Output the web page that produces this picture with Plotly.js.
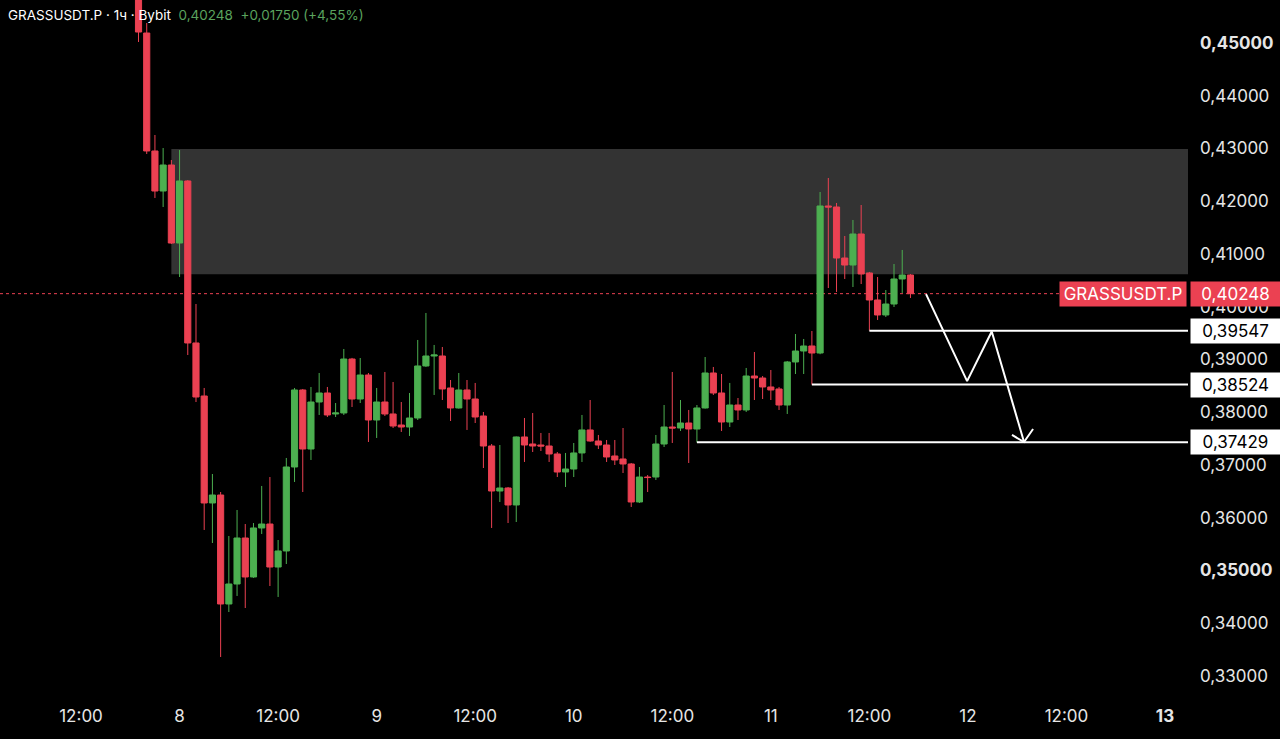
<!DOCTYPE html>
<html><head><meta charset="utf-8">
<script src="https://cdn.plot.ly/plotly-3.0.1.min.js"></script>
<style>html,body{margin:0;padding:0;background:#000;overflow:hidden}#chart{width:1280px;height:739px}</style>
</head><body><div id="chart"></div>
<script>
// hourly candles, first candle 2025-10-07 19:00
const firstCandle = [2025, 9, 7, 19];
const opens = [0.4620,0.45189,0.42953,0.42194,0.42687,0.41208,0.42384,0.39313,0.38308,0.36280,
0.36431,0.34365,0.34744,0.35616,0.34877,0.35806,0.35881,0.35066,0.35370,0.36962,
0.38422,0.37303,0.38194,0.38365,0.37967,0.37986,0.39009,0.38251,0.38706,0.37853,
0.38194,0.37967,0.37758,0.37720,0.37891,0.38877,0.39066,0.39066,0.38460,0.38081,
0.38422,0.38251,0.37929,0.37360,0.36507,0.36564,0.36242,0.37531,0.37398,0.37379,
0.37360,0.37209,0.36867,0.36924,0.37228,0.37664,0.37455,0.37379,0.37171,0.37114,
0.37019,0.36299,0.36772,0.36772,0.37398,0.37720,0.37701,0.37796,0.37682,0.38081,
0.38744,0.38365,0.37815,0.38137,0.38043,0.38687,0.38649,0.38479,0.38441,0.38137,
0.38953,0.39161,0.39256,0.39123,0.41910,0.41891,0.40924,0.40791,0.41379,0.40640,
0.40128,0.39844,0.40052,0.40526,0.40602];
const highs = [0.4640,0.45379,0.43256,0.43009,0.42782,0.42971,0.42400,0.40052,0.38460,0.36829,
0.36488,0.35654,0.36147,0.35881,0.35900,0.36602,0.36772,0.35578,0.37133,0.38460,
0.38441,0.38479,0.38744,0.38479,0.38175,0.39199,0.39030,0.39028,0.38744,0.38460,
0.38763,0.38573,0.38194,0.38365,0.39370,0.39882,0.39275,0.39237,0.38611,0.38744,
0.38611,0.38555,0.38005,0.37398,0.37379,0.36583,0.37540,0.37891,0.37986,0.37607,
0.37607,0.37246,0.37228,0.37417,0.37948,0.38232,0.37569,0.37474,0.37474,0.37701,
0.37038,0.36962,0.36810,0.37569,0.38137,0.38763,0.38232,0.38043,0.38137,0.39047,
0.38858,0.38725,0.38555,0.38270,0.38839,0.39142,0.38687,0.38801,0.38479,0.38972,
0.39483,0.39389,0.39540,0.42175,0.42441,0.41967,0.41341,0.41645,0.41929,0.40660,
0.40564,0.40317,0.40810,0.41076,0.40620];
const lows = [0.45019,0.42896,0.42062,0.41891,0.41190,0.40564,0.39085,0.38194,0.35768,0.35521,
0.33360,0.34213,0.34517,0.34289,0.34860,0.35692,0.34706,0.34498,0.35123,0.36678,
0.36488,0.37095,0.37948,0.37910,0.37910,0.37948,0.38100,0.38175,0.37436,0.37512,
0.37929,0.37701,0.37626,0.37550,0.37853,0.38860,0.38327,0.38232,0.37834,0.38070,
0.37664,0.37796,0.36943,0.35806,0.36299,0.35900,0.35919,0.37057,0.37246,0.37265,
0.37057,0.36772,0.36583,0.36772,0.37057,0.37440,0.37303,0.37057,0.37000,0.36848,
0.36204,0.36280,0.36488,0.36716,0.37341,0.37417,0.37645,0.37038,0.37429,0.38070,
0.38327,0.37645,0.37720,0.37853,0.38005,0.38232,0.38251,0.38232,0.38043,0.37967,
0.38725,0.38725,0.38524,0.39100,0.40355,0.40280,0.40526,0.40374,0.40431,0.39547,
0.39749,0.39806,0.39995,0.40261,0.40166];
const closes = [0.45208,0.42953,0.42194,0.42687,0.41208,0.42384,0.39313,0.38289,0.36280,0.36431,
0.34365,0.34744,0.35616,0.34877,0.35806,0.35881,0.35066,0.35370,0.36962,0.38422,
0.37303,0.38194,0.38365,0.37948,0.37986,0.39009,0.38251,0.38706,0.37853,0.38194,
0.37967,0.37739,0.37720,0.37891,0.38877,0.39066,0.39085,0.38441,0.38081,0.38422,
0.38251,0.37910,0.37360,0.36507,0.36564,0.36242,0.37531,0.37379,0.37360,0.37360,
0.37209,0.36867,0.36924,0.37228,0.37664,0.37455,0.37379,0.37152,0.37095,0.37019,
0.36299,0.36772,0.36762,0.37398,0.37720,0.37701,0.37796,0.37682,0.38081,0.38744,
0.38365,0.37815,0.38137,0.38043,0.38687,0.38649,0.38479,0.38422,0.38137,0.38953,
0.39161,0.39256,0.39123,0.41910,0.41891,0.40924,0.40791,0.41379,0.40621,0.40128,
0.39844,0.40052,0.40526,0.40602,0.40248];

const lastPrice = 0.40248;
const symbol = 'GRASSUSDT.P';
const headerLeft = 'GRASSUSDT.P · 1ч · Bybit';
const headerRight = '0,40248\u00a0\u00a0+0,01750 (+4,55%)';

// supply zone
const zoneStart = '2025-10-07 23:00';
const zoneTop = 0.4299;
const zoneBottom = 0.40617;

// support levels
const levelPrices = [0.39547, 0.38524, 0.37429];
const levelLabels = ['0,39547', '0,38524', '0,37429'];
const levelStarts = ['2025-10-11 12:00', '2025-10-11 05:00', '2025-10-10 15:00'];

// projected path
const pathTimes = ['2025-10-11 18:54', '2025-10-11 23:54', '2025-10-12 02:54', '2025-10-12 06:50'];
const pathPrices = [0.40240, 0.38590, 0.39530, 0.37436];
const headTimes = ['2025-10-12 05:22', '2025-10-12 06:50', '2025-10-12 07:56'];
const headPrices = [0.37569, 0.37436, 0.37682];

// axes
const xTickVals = ['2025-10-07 12:00','2025-10-08 00:00','2025-10-08 12:00','2025-10-09 00:00','2025-10-09 12:00',
 '2025-10-10 00:00','2025-10-10 12:00','2025-10-11 00:00','2025-10-11 12:00','2025-10-12 00:00','2025-10-12 12:00','2025-10-13 00:00'];
const xTickText = ['12:00','8','12:00','9','12:00','10','12:00','11','12:00','12','12:00','<b>13</b>'];
const yTickVals = [0.33,0.34,0.35,0.36,0.37,0.38,0.39,0.40,0.41,0.42,0.43,0.44,0.45];
const yTickText = ['0,33000','0,34000','<b>0,35000</b>','0,36000','0,37000','0,38000','0,39000','0,40000','0,41000','0,42000','0,43000','0,44000','<b>0,45000</b>'];
const xRange = ['2025-10-07 02:08', '2025-10-13 02:48'];
const yRange = [0.32469, 0.45815];

function fmt(d){ return d.toISOString().slice(0,16).replace('T',' '); }
const times = opens.map((_, i) => fmt(new Date(Date.UTC(firstCandle[0], firstCandle[1], firstCandle[2], firstCandle[3] + i))));

const GREEN = '#4caf50', RED = '#eb4152';

const traces = [
 { type: 'candlestick', x: times, open: opens, high: highs, low: lows, close: closes,
   increasing: { line: { color: GREEN, width: 1 }, fillcolor: GREEN },
   decreasing: { line: { color: RED, width: 1 }, fillcolor: RED },
   whiskerwidth: 0, hoverinfo: 'skip', showlegend: false },
 { type: 'scatter', mode: 'lines', x: pathTimes, y: pathPrices, line: { color: '#ffffff', width: 2 }, hoverinfo: 'skip', showlegend: false },
 { type: 'scatter', mode: 'lines', x: headTimes, y: headPrices, line: { color: '#ffffff', width: 2 }, hoverinfo: 'skip', showlegend: false }
];

const shapes = [
 { type: 'rect', xref: 'x', yref: 'y', x0: zoneStart, x1: xRange[1], y0: zoneBottom, y1: zoneTop,
   fillcolor: '#333333', line: { width: 0 }, layer: 'below' },
 { type: 'line', xref: 'paper', yref: 'y', x0: 0, x1: 1, y0: lastPrice, y1: lastPrice,
   line: { color: RED, width: 1, dash: 'dot' }, layer: 'below' }
];
levelPrices.forEach((p, i) => shapes.push({ type: 'line', xref: 'x', yref: 'y', x0: levelStarts[i], x1: xRange[1], y0: p, y1: p,
   line: { color: '#ffffff', width: 2 } }));

const annotations = [
 { xref: 'paper', yref: 'paper', x: 0, y: 1, xanchor: 'left', yanchor: 'top', xshift: 6, yshift: -5, showarrow: false,
   text: headerLeft + '\u00a0\u00a0<span style="color:#5aa35e">' + headerRight + '</span>',
   font: { size: 13.5, color: '#ffffff' } },
 { xref: 'paper', yref: 'y', x: 1, y: lastPrice, xanchor: 'right', yanchor: 'middle', xshift: -1, showarrow: false,
   text: symbol, bgcolor: RED, width: 124, height: 22, font: { size: 17, color: '#ffffff' } },
 { xref: 'paper', yref: 'y', x: 1, y: lastPrice, xanchor: 'left', yanchor: 'middle', xshift: 2, showarrow: false,
   text: '0,40248', bgcolor: RED, width: 87, height: 22, font: { size: 17, color: '#ffffff' } }
];
levelPrices.forEach((p, i) => annotations.push({ xref: 'paper', yref: 'y', x: 1, y: p, xanchor: 'left', yanchor: 'middle', xshift: 2,
   showarrow: false, text: levelLabels[i], bgcolor: '#ffffff', width: 87, height: 22, font: { size: 17, color: '#000000' } }));

const layout = {
 width: 1280, height: 739,
 margin: { l: 0, r: 92, t: 0, b: 35 },
 paper_bgcolor: '#000000', plot_bgcolor: '#000000',
 font: { family: 'Inter, Roboto, sans-serif', color: '#e6e6e6', size: 17 },
 boxgap: 0.15, boxgroupgap: 0.12,
 showlegend: false, hovermode: false,
 xaxis: { type: 'date', range: xRange, tickvals: xTickVals, ticktext: xTickText, showgrid: false, zeroline: false,
   showline: false, ticks: '', rangeslider: { visible: false }, tickfont: { size: 17, color: '#e6e6e6' }, fixedrange: true },
 yaxis: { side: 'right', range: yRange, tickvals: yTickVals, ticktext: yTickText, showgrid: false, zeroline: false,
   showline: false, ticks: '', ticklabelstandoff: 11, tickfont: { size: 17, color: '#e6e6e6' }, fixedrange: true },
 shapes: shapes, annotations: annotations
};

Plotly.newPlot('chart', traces, layout, { staticPlot: true, displayModeBar: false });
</script></body></html>
